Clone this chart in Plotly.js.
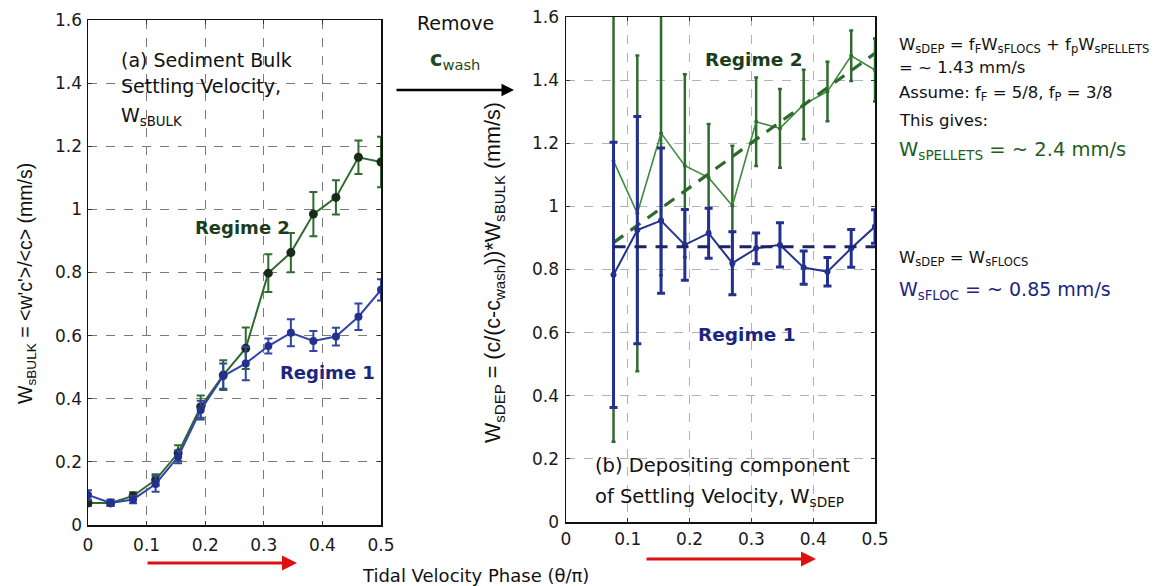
<!DOCTYPE html>
<html>
<head>
<meta charset="utf-8">
<script src="https://cdn.plot.ly/plotly-3.0.1.min.js"></script>
<style>html,body{margin:0;padding:0;background:#fff;}#chart{width:1164px;height:586px;}</style>
</head>
<body>
<div id="chart"></div>
<script>
// ---- Data ----
const phaseA = [0, 0.0385, 0.0769, 0.1154, 0.1538, 0.1923, 0.2308, 0.2692, 0.3077, 0.3462, 0.3846, 0.4231, 0.4615, 0.5];
const bulkRegime2 = [0.07, 0.07, 0.092, 0.143, 0.228, 0.375, 0.475, 0.56, 0.798, 0.863, 0.985, 1.038, 1.165, 1.15];
const bulkRegime2Err = [0.01, 0.01, 0.012, 0.018, 0.025, 0.035, 0.047, 0.066, 0.06, 0.062, 0.07, 0.054, 0.053, 0.08];
const bulkRegime1 = [0.095, 0.07, 0.081, 0.13, 0.216, 0.364, 0.472, 0.512, 0.567, 0.609, 0.583, 0.597, 0.66, 0.745];
const bulkRegime1Err = [0.015, 0.01, 0.012, 0.025, 0.02, 0.03, 0.04, 0.053, 0.024, 0.043, 0.032, 0.028, 0.042, 0.034];

const phaseB = [0.0769, 0.1154, 0.1538, 0.1923, 0.2308, 0.2692, 0.3077, 0.3462, 0.3846, 0.4231, 0.4615, 0.5];
const depRegime2 = [1.144, 0.978, 1.232, 1.129, 1.091, 1.002, 1.268, 1.247, 1.323, 1.364, 1.477, 1.432];
const depRegime2Err = [0.89, 0.5, 0.45, 0.29, 0.17, 0.19, 0.14, 0.125, 0.11, 0.094, 0.08, 0.1];
const depRegime1 = [0.783, 0.925, 0.955, 0.878, 0.915, 0.82, 0.867, 0.878, 0.806, 0.793, 0.867, 0.936];
const depRegime1Err = [0.42, 0.36, 0.23, 0.112, 0.079, 0.1, 0.049, 0.07, 0.053, 0.045, 0.06, 0.053];

const flocFitX = [0.0769, 0.5];
const flocFitY = [0.872, 0.872];
const pelletFitX = [0.0769, 0.5];
const pelletFitY = [0.885, 1.485];

const xTickVals = [0, 0.1, 0.2, 0.3, 0.4, 0.5];
const xTickText = ['0', '0.1', '0.2', '0.3', '0.4', '0.5'];
const yTickVals = [0, 0.2, 0.4, 0.6, 0.8, 1, 1.2, 1.4, 1.6];
const yTickText = ['0', '0.2', '0.4', '0.6', '0.8', '1', '1.2', '1.4', '1.6'];

// ---- Styling ----
const W = 1164, H = 586;
const px = x => x / W;
const py = y => 1 - y / H;
const GREEN = '#2f6b2f', GREEN_DARK = '#1c3d1c', NAVY = '#23308f', NAVY_TXT = '#1c2680';
const FONT = 'DejaVu Sans, sans-serif';
const VFONT = 'Liberation Sans, Arial, sans-serif';

const traces = [
  { x: phaseA, y: bulkRegime2, xaxis: 'x', yaxis: 'y', mode: 'lines+markers',
    line: { color: GREEN, width: 2 }, marker: { color: '#1a2b1a', size: 9 },
    error_y: { type: 'data', array: bulkRegime2Err, color: GREEN, thickness: 2, width: 4 } },
  { x: phaseA, y: bulkRegime1, xaxis: 'x', yaxis: 'y', mode: 'lines+markers',
    line: { color: '#3344a8', width: 2 }, marker: { color: NAVY, size: 8 },
    error_y: { type: 'data', array: bulkRegime1Err, color: '#3344a8', thickness: 2, width: 4 } },
  { x: phaseB, y: depRegime2, xaxis: 'x2', yaxis: 'y2', mode: 'lines+markers',
    line: { color: '#3f8a3f', width: 1.6 }, marker: { color: GREEN, size: 4 },
    error_y: { type: 'data', array: depRegime2Err, color: GREEN, thickness: 2.5, width: 2 } },
  { x: pelletFitX, y: pelletFitY, xaxis: 'x2', yaxis: 'y2', mode: 'lines',
    line: { color: '#2a6a2a', width: 3.2, dash: '12px,9px' } },
  { x: phaseB, y: depRegime1, xaxis: 'x2', yaxis: 'y2', mode: 'lines+markers',
    line: { color: NAVY, width: 2 }, marker: { color: NAVY, size: 6 },
    error_y: { type: 'data', array: depRegime1Err, color: NAVY, thickness: 3, width: 4 } },
  { x: flocFitX, y: flocFitY, xaxis: 'x2', yaxis: 'y2', mode: 'lines',
    line: { color: '#1c2466', width: 3.2, dash: '12px,9px' } }
];

const axisCommon = {
  showline: true, linecolor: '#111', linewidth: 1.5, mirror: 'ticks',
  ticks: 'inside', ticklen: 4, tickcolor: '#333', zeroline: false,
  showgrid: true, griddash: 'dash', gridwidth: 1,
  tickfont: { family: FONT, size: 17, color: '#1a1a1a' }
};

const ann = [];
function txt(x, y, text, opts) {
  ann.push(Object.assign({ xref: 'paper', yref: 'paper', x: px(x), y: py(y), text: text,
    xanchor: 'center', yanchor: 'middle',
    showarrow: false, font: { family: FONT, size: 16, color: '#111' } }, opts || {}));
}
function arrow(x1, y1, x0, y0, color, width) {
  ann.push({ xref: 'paper', yref: 'paper', x: px(x1), y: py(y1), ax: x0 - x1, ay: y0 - y1,
    axref: 'pixel', ayref: 'pixel', text: '', showarrow: true, arrowhead: 2, arrowsize: 1,
    arrowwidth: width, arrowcolor: color });
}

// axis titles
txt(26, 284, 'W<sub>sBULK</sub> = &lt;w\'c\'&gt;/&lt;c&gt; (mm/s)', { textangle: -90, font: { family: VFONT, size: 19.5, color: '#111' } });
txt(495, 273, 'W<sub>sDEP</sub> = (c/(c-c<sub>wash</sub>))*W<sub>sBULK</sub> (mm/s)', { textangle: -90, font: { family: VFONT, size: 21.5, color: '#111' } });
txt(475, 575, 'Tidal Velocity Phase (θ/π)', { font: { family: FONT, size: 18, color: '#111' } });

// panel labels
const L = { xanchor: 'left', font: { family: FONT, size: 19, color: '#111' } };
txt(119, 60, '(a) Sediment Bulk', L);
txt(119, 86, 'Settling Velocity,', L);
txt(119, 116, 'W<sub>sBULK</sub>', L);
const Lb = { xanchor: 'left', font: { family: FONT, size: 19.5, color: '#111' } };
txt(593, 466, '(b) Depositing component', Lb);
txt(593, 497, 'of Settling Velocity, W<sub>sDEP</sub>', Lb);

// regime labels
txt(242, 227, '<b>Regime 2</b>', { font: { family: FONT, size: 18, color: GREEN_DARK } });
txt(327, 372, '<b>Regime 1</b>', { font: { family: FONT, size: 18, color: NAVY_TXT } });
txt(754, 60, '<b>Regime 2</b>', { font: { family: FONT, size: 18.5, color: GREEN_DARK } });
txt(747, 334, '<b>Regime 1</b>', { font: { family: FONT, size: 18.5, color: NAVY_TXT } });

// remove c_wash
txt(455, 23, 'Remove', { font: { family: FONT, size: 19, color: '#111' } });
txt(455, 60, '<b>c</b><sub>wash</sub>', { font: { family: FONT, size: 21, color: '#1e4a1e' } });
arrow(514, 90, 395, 90, '#000', 2.5);

// red arrows
arrow(297, 563, 146, 563, '#e01010', 3);
arrow(816, 559, 645, 559, '#e01010', 3);

// right notes
const nx = 897;
const N = { xanchor: 'left', font: { family: FONT, size: 16.5, color: '#111' } };
txt(nx, 45, 'W<sub>sDEP</sub> = f<sub>F</sub>W<sub>sFLOCS</sub> + f<sub>p</sub>W<sub>sPELLETS</sub>', N);
txt(nx, 68, '= ~ 1.43 mm/s', N);
txt(nx, 94, 'Assume: f<sub>F</sub> = 5/8, f<sub>P</sub> = 3/8', N);
txt(nx, 121, 'This gives:', N);
txt(nx, 151, 'W<sub>sPELLETS</sub> = ~ 2.4 mm/s', { xanchor: 'left', font: { family: FONT, size: 19.5, color: '#1e5e1e' } });
txt(nx, 258, 'W<sub>sDEP</sub> = W<sub>sFLOCS</sub>', N);
txt(nx, 291, 'W<sub>sFLOC</sub> = ~ 0.85 mm/s', { xanchor: 'left', font: { family: FONT, size: 19, color: NAVY_TXT } });

const layout = {
  width: W, height: H, margin: { l: 0, r: 0, t: 0, b: 0 },
  paper_bgcolor: '#fff', plot_bgcolor: '#fff', showlegend: false,
  xaxis: Object.assign({}, axisCommon, { domain: [px(88), px(381)], range: [0, 0.5], tickvals: xTickVals, ticktext: xTickText, gridcolor: '#7a7a7a', anchor: 'y', ticklabelstandoff: 4 }),
  yaxis: Object.assign({}, axisCommon, { domain: [py(525), py(20)], range: [0, 1.6], tickvals: yTickVals, ticktext: yTickText, gridcolor: '#7a7a7a', anchor: 'x', ticklabelstandoff: 1 }),
  xaxis2: Object.assign({}, axisCommon, { domain: [px(566), px(875)], range: [0, 0.5], tickvals: xTickVals, ticktext: xTickText, gridcolor: '#b0b0c0', anchor: 'y2', ticklabelstandoff: 1 }),
  yaxis2: Object.assign({}, axisCommon, { domain: [py(522), py(17)], range: [0, 1.6], tickvals: yTickVals, ticktext: yTickText, gridcolor: '#b0b0c0', anchor: 'x2', ticklabelstandoff: 2 }),
  annotations: ann
};

Plotly.newPlot('chart', traces, layout, { staticPlot: true, displayModeBar: false });
</script>
</body>
</html>
